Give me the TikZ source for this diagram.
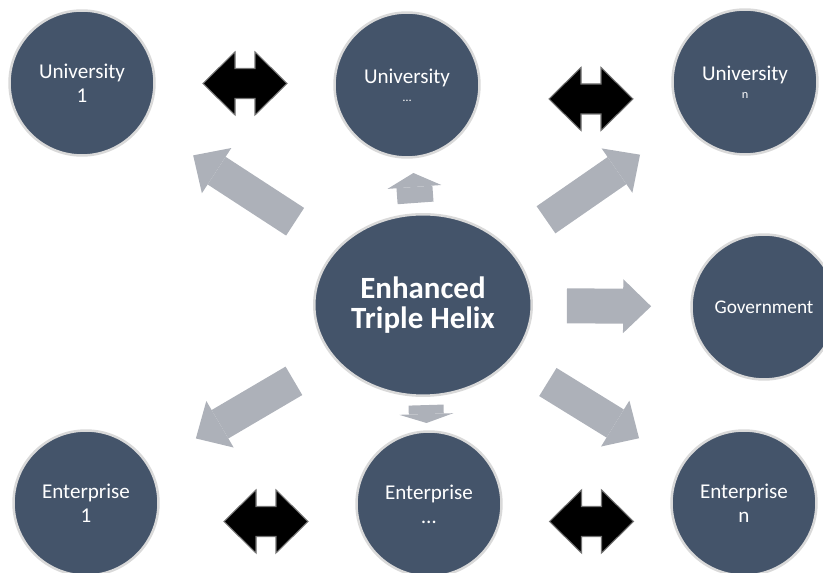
\documentclass[tikz,border=0pt]{standalone}
\usepackage{fontspec}
\setmainfont{Carlito}
\usetikzlibrary{shapes.geometric,arrows.meta,calc}

\begin{document}
\begin{tikzpicture}[x=0.02cm, y=-0.02cm,
    unit/.style={circle, fill=helixblue, draw=rimgray, line width=0.05cm,
        minimum size=2.9cm, inner sep=0pt, text=white, align=center,
        font=\fontsize{12}{13.6}\selectfont},
    flow/.style={draw=flowgray, line width=0.66cm,
        -{Triangle[length=#1, width=1.08cm, line width=0pt]}},
    flow/.default=0.56cm,
    link/.style={fill=black, draw=black!55, line width=0.6pt}]
    \definecolor{helixblue}{HTML}{44546A}
    \definecolor{rimgray}{RGB}{217,217,217}
    \definecolor{flowgray}{RGB}{173,177,185}

    \useasboundingbox (0,0) rectangle (823,573);
    \clip (0,0) rectangle (823,573);

    \node[unit, ellipse, minimum width=4.35cm, minimum height=3.63cm,
        font=\fontsize{17.6}{17}\selectfont\bfseries] (c) at (423,305) {Enhanced\\Triple Helix};

    \node[unit] (u1) at (82,83) {University\\1};
    \node[unit] (um) at (407,85) {University\\[-3.4pt]{\fontsize{7}{8}\selectfont …}};
    \node[unit] (un) at (745,82) {University\\[-3.4pt]{\fontsize{7}{8}\selectfont n}};
    \node[unit, font=\fontsize{11}{13}\selectfont] (gov) at (764,307) {Government};
    \node[unit] (e1) at (86,503) {Enterprise\\1};
    \node[unit] (em) at (429,504) {Enterprise\\…};
    \node[unit] (en) at (744,503) {Enterprise\\n};

    % spokes out of the helix
    \draw[flow] ($(c)!0.375!(u1)$) -- ($(c)!0.674!(u1)$);
    \draw[flow=0.28cm, line width=0.72cm] ($(c)!0.464!(um)$) -- ($(c)!0.6!(um)$);
    \draw[flow] ($(c)!0.382!(un)$) -- ($(c)!0.674!(un)$);
    \draw[flow, line width=0.7cm] ($(c)!0.422!(gov)$) -- ($(c)!0.669!(gov)$);
    \draw[flow] ($(c)!0.383!(e1)$) -- ($(c)!0.674!(e1)$);
    \draw[flow=0.18cm, line width=0.7cm] ($(c)!0.503!(em)$) -- ($(c)!0.593!(em)$);
    \draw[flow] ($(c)!0.389!(en)$) -- ($(c)!0.673!(en)$);

    % two-way links between peers
    \foreach \x/\y in {245/83.5, 591/99, 266/521.5, 591.5/521.5}
        \draw[link] (\x,\y) ++(-42,0) -- ++(32,-31.5) -- ++(0,16.5) -- ++(20,0)
            -- ++(0,-16.5) -- ++(32,31.5) -- ++(-32,31.5) -- ++(0,-16.5)
            -- ++(-20,0) -- ++(0,16.5) -- cycle;
\end{tikzpicture}
\end{document}
